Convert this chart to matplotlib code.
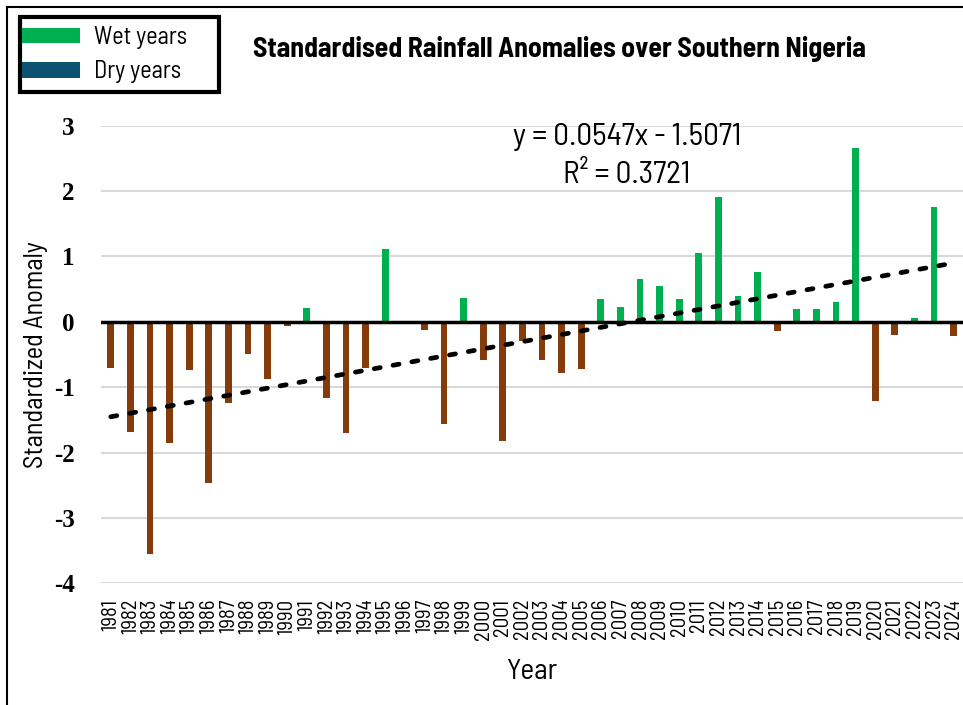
import matplotlib
matplotlib.use('Agg')
import matplotlib.pyplot as plt
from matplotlib.patches import Patch, Rectangle
from matplotlib.lines import Line2D
import numpy as np

years = list(range(1981, 2025))
anomaly = [-0.70, -1.68, -3.55, -1.85, -0.73, -2.46, -1.24, -0.49, -0.87, -0.07,
           0.21, -1.16, -1.70, -0.70, 1.12, -0.02, -0.13, -1.56, 0.36, -0.59,
           -1.82, -0.29, -0.59, -0.78, -0.72, 0.35, 0.22, 0.65, 0.55, 0.35,
           1.05, 1.91, 0.39, 0.76, -0.14, 0.19, 0.20, 0.30, 2.66, -1.21,
           -0.20, 0.06, 1.75, -0.21]
slope = 0.0547
intercept = -1.5071
r_squared = 0.3721
yticks = [-4, -3, -2, -1, 0, 1, 2, 3]

WET = '#00B050'
DRY = '#843C0C'
DRY_LEGEND = '#0B5370'
NARROW = ['Barlow Semi Condensed', 'Archivo Narrow', 'DejaVu Sans']

fig = plt.figure(figsize=(9.63, 7.05), dpi=100)
W, H = 963, 705
ax = fig.add_axes([101 / W, 1 - 583.3 / H, 862.4 / W, (583.3 - 125.7) / H])

x = np.arange(1, len(years) + 1)
colors = [WET if v >= 0 else DRY for v in anomaly]
ax.bar(x, anomaly, width=0.34, color=colors, zorder=3)
ax.set_xlim(0.5, len(years) + 0.5)
ax.set_ylim(-4, 3)
ax.set_yticks(yticks)
ax.set_yticklabels([str(t) for t in yticks], fontfamily=['Liberation Serif', 'DejaVu Serif'],
                   fontweight='bold', fontsize=18)
ax.set_xticks(x)
ax.set_xticklabels([str(y) for y in years], rotation=90, fontfamily=NARROW, fontsize=15)
ax.tick_params(axis='y', length=0, pad=19)
ax.tick_params(axis='x', length=0, pad=11)
ax.yaxis.grid(True, color='#D9D9D9', lw=1.5)
ax.set_axisbelow(True)
for s in ax.spines.values():
    s.set_visible(False)
ax.axhline(0, color='black', lw=2.5, zorder=4)

xt = np.array([x[0], x[-1] - 0.45])
ax.plot(xt, slope * xt + intercept, color='black', lw=3.4,
        linestyle=(0, (1.3, 2.75)), dash_capstyle='round', zorder=5)

ax.set_xlabel('Year', fontfamily=NARROW, fontsize=21, labelpad=14)
ax.set_ylabel('Standardized Anomaly', fontfamily=NARROW, fontsize=19, labelpad=4)

fig.text(627 / W, 1 - 137 / H, f'y = {slope}x - {abs(intercept)}', ha='center', va='center',
         fontfamily=NARROW, fontsize=22.5)
fig.text(627 / W, 1 - 175 / H, f'R² = {r_squared}', ha='center', va='center',
         fontfamily=NARROW, fontsize=22.5)

fig.text(559 / W, 1 - 49 / H, 'Standardised Rainfall Anomalies over Southern Nigeria',
         ha='center', va='center', fontfamily=NARROW, fontweight='bold', fontsize=20)

handles = [Patch(facecolor=WET), Patch(facecolor=DRY_LEGEND)]
leg = fig.legend(handles, ['Wet years', 'Dry years'], loc='upper left',
                 bbox_to_anchor=(22 / W, 1 - 26 / H), frameon=False,
                 prop={'family': NARROW, 'size': 17.5}, handlelength=2.4, handleheight=0.62,
                 borderpad=0, labelspacing=0.47, handletextpad=0.55, borderaxespad=0)
fig.add_artist(Rectangle((20 / W, 1 - 92 / H), 199 / W, 75 / H, fill=False, edgecolor='black',
                         lw=3, transform=fig.transFigure))

fig.add_artist(Line2D([7 / W, 7 / W], [0, 1 - 7 / H], color='black', lw=1.5, transform=fig.transFigure))
fig.add_artist(Line2D([7 / W, 1], [1 - 7 / H, 1 - 7 / H], color='black', lw=1.5, transform=fig.transFigure))

fig.savefig('out.png', dpi=100)
